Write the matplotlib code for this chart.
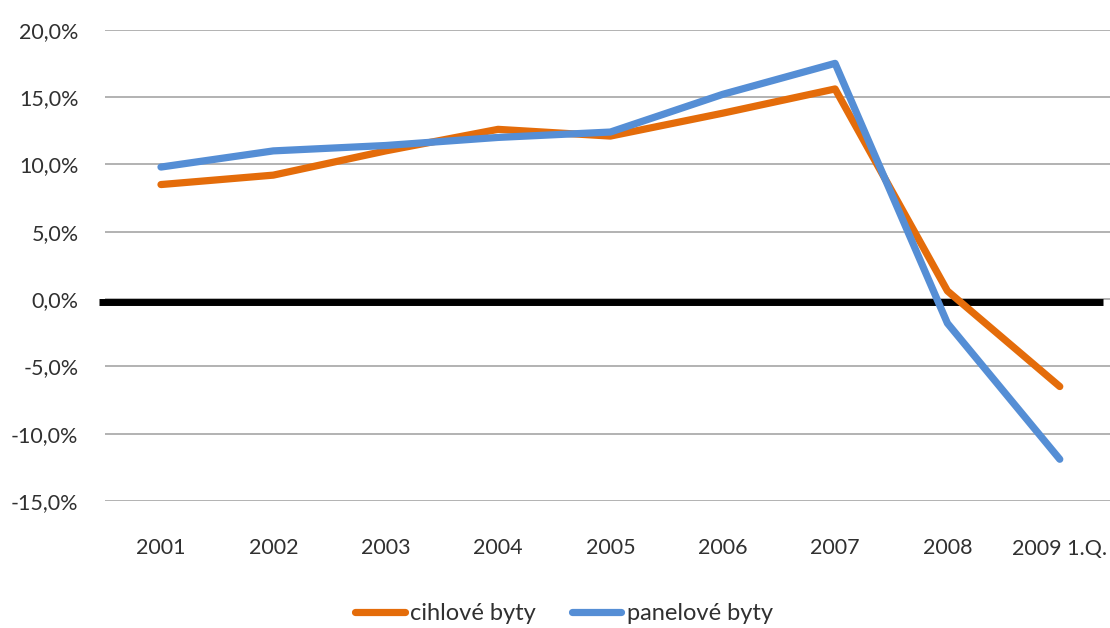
import matplotlib
matplotlib.use("Agg")
import matplotlib.pyplot as plt
import matplotlib.transforms as mtransforms
from matplotlib.ticker import FuncFormatter

categories = ["2001", "2002", "2003", "2004", "2005", "2006", "2007", "2008", "2009 1.Q."]
cihlove = [8.5, 9.2, 11.0, 12.6, 12.1, 13.8, 15.6, 0.6, -6.5]
panelove = [9.8, 11.0, 11.4, 12.0, 12.4, 15.2, 17.5, -1.8, -11.9]
series_names = ["cihlové byty", "panelové byty"]
y_ticks = [-15, -10, -5, 0, 5, 10, 15, 20]

plt.rcParams["font.family"] = ["Lato", "DejaVu Sans"]

W, H = 1110, 628
fig = plt.figure(figsize=(W / 100, H / 100), dpi=100)

left, right = 104.8, 1110
top, bottom = 29.7, 501
ax = fig.add_axes([left / W, (H - bottom) / H, (right - left) / W, (bottom - top) / H])

x = list(range(len(categories)))
orange = "#E46C0A"
blue = "#558ED5"
text_color = "#303030"

ax.set_ylim(-15, 20)
ax.set_xlim(-0.5, 8.447)
ax.set_yticks(y_ticks)
ax.yaxis.set_major_formatter(FuncFormatter(lambda v, p: f"{v:.1f}%".replace(".", ",")))
ax.set_xticks(x)
ax.set_xticklabels(categories)

for s in ax.spines.values():
    s.set_visible(False)
ax.tick_params(axis="both", length=0, labelsize=15.5, colors=text_color)
ax.tick_params(axis="y", pad=19)
ax.tick_params(axis="x", pad=27)
ax.yaxis.grid(True, color="#A6A6A6", linewidth=1.2)
ax.set_axisbelow(True)

# thick horizontal axis at zero, drawn a little below the gridline like a heavy axis stroke
shift = mtransforms.ScaledTranslation(0, -3 / 100, fig.dpi_scale_trans)
ax.plot([-0.006, (1103 - left) / (right - left)], [0, 0], color="black",
        linewidth=5, solid_capstyle="butt", zorder=2, clip_on=False,
        transform=ax.get_yaxis_transform() + shift)

l1, = ax.plot(x, cihlove, color=orange, linewidth=5.2, solid_capstyle="round",
              solid_joinstyle="round", zorder=3, label=series_names[0])
l2, = ax.plot(x, panelove, color=blue, linewidth=5.2, solid_capstyle="round",
              solid_joinstyle="round", zorder=4, label=series_names[1])

leg = fig.legend(handles=[l1, l2], loc="center", bbox_to_anchor=(564 / W, (H - 614) / H),
                 ncol=2, frameon=False, fontsize=17, handlelength=2.1, handletextpad=0.25,
                 columnspacing=1.5)
for t in leg.get_texts():
    t.set_color(text_color)

fig.savefig("out.png", dpi=100)
